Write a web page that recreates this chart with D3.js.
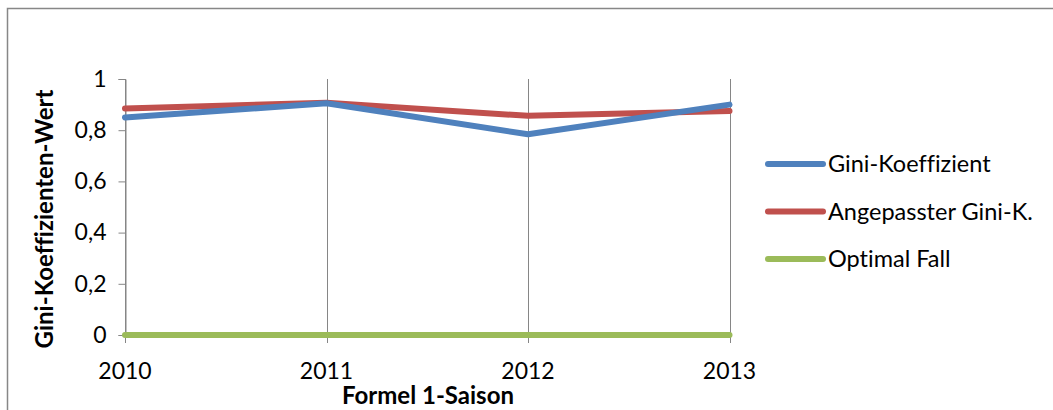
<!DOCTYPE html>
<html>
<head>
<meta charset="utf-8">
<script src="https://cdn.jsdelivr.net/npm/d3@7"></script>
<style>
  body { margin: 0; background: #fff; }
  svg { display: block; font-family: Lato, "Open Sans", sans-serif; font-variant-ligatures: none; }
</style>
</head>
<body>
<svg id="chart"></svg>
<script>
// data
const seasons = ['2010', '2011', '2012', '2013'];
const gini = [0.85, 0.905, 0.784, 0.90];
const giniAdjusted = [0.885, 0.907, 0.856, 0.875];
const optimal = [0, 0, 0, 0];
const yTicks = [0, 0.2, 0.4, 0.6, 0.8, 1];
const seriesNames = ['Gini-Koeffizient', 'Angepasster Gini-K.', 'Optimal Fall'];
const seriesColors = ['#4F81BD', '#C0504D', '#9BBB59'];

const width = 1053, height = 410;
const margin = {top: 79, left: 125, right: 323.5, bottom: 75};

const svg = d3.select('#chart')
    .attr('width', width)
    .attr('height', height);

// outer chart frame
svg.append('rect')
    .attr('x', 7.5).attr('y', 8.5)
    .attr('width', width + 20).attr('height', height + 20)
    .attr('fill', 'none')
    .attr('stroke', '#878787')
    .attr('stroke-width', 1.5);

const x = d3.scalePoint()
    .domain(seasons)
    .range([margin.left, width - margin.right]);

const y = d3.scaleLinear()
    .domain([0, 1])
    .range([height - margin.bottom, margin.top]);

// vertical gridlines per season (also act as x ticks)
svg.append('g')
    .selectAll('line')
    .data(seasons)
    .join('line')
    .attr('x1', d => Math.round(x(d)) + 0.5)
    .attr('x2', d => Math.round(x(d)) + 0.5)
    .attr('y1', y(1))
    .attr('y2', y(0) + 8)
    .attr('stroke', '#868686')
    .attr('stroke-width', 1);

// y axis
const yAxis = g => g.attr('transform', `translate(${Math.round(margin.left) + 0.5},0)`)
    .call(d3.axisLeft(y)
        .tickValues(yTicks)
        .tickSize(7)
        .tickPadding(12)
        .tickFormat(d => d3.format('.1~f')(d).replace('.', ',')))
    .call(g => g.select('.domain').attr('stroke', '#868686'))
    .call(g => g.selectAll('.tick line').attr('stroke', '#868686'))
    .call(g => g.selectAll('.tick text')
        .attr('fill', '#000')
        .style('font-size', '23px')
        .style('font-family', 'Lato, sans-serif'));
svg.append('g').call(yAxis);

// x labels
svg.append('g')
    .selectAll('text')
    .data(seasons)
    .join('text')
    .attr('x', d => x(d))
    .attr('y', 379)
    .attr('text-anchor', 'middle')
    .style('font-size', '23px')
    .text(d => d);

// lines
const line = d3.line()
    .x((d, i) => x(seasons[i]))
    .y(d => y(d));

const series = [optimal, giniAdjusted, gini];
const colorsDrawn = [seriesColors[2], seriesColors[1], seriesColors[0]];
svg.append('g')
    .selectAll('path')
    .data(series)
    .join('path')
    .attr('d', line)
    .attr('fill', 'none')
    .attr('stroke', (d, i) => colorsDrawn[i])
    .attr('stroke-width', 6)
    .attr('stroke-linejoin', 'round')
    .attr('stroke-linecap', 'round');

// axis titles
svg.append('text')
    .attr('transform', `translate(53,${(y(0) + y(1)) / 2 + 12}) rotate(-90)`)
    .attr('text-anchor', 'middle')
    .style('font-size', '24px')
    .style('font-weight', 'bold')
    .text('Gini-Koeffizienten-Wert');

svg.append('text')
    .attr('x', 428)
    .attr('y', 404)
    .attr('text-anchor', 'middle')
    .style('font-size', '24px')
    .style('font-weight', 'bold')
    .text('Formel 1-Saison');

// legend
const legend = svg.append('g')
    .selectAll('g')
    .data(seriesNames)
    .join('g')
    .attr('transform', (d, i) => `translate(768,${164 + i * 47.5})`);

legend.append('line')
    .attr('x1', 0).attr('x2', 55)
    .attr('stroke', (d, i) => seriesColors[i])
    .attr('stroke-width', 6)
    .attr('stroke-linecap', 'round');

legend.append('text')
    .attr('x', 60)
    .attr('dy', '0.35em')
    .style('font-size', '23.5px')
    .text(d => d);
</script>
</body>
</html>
